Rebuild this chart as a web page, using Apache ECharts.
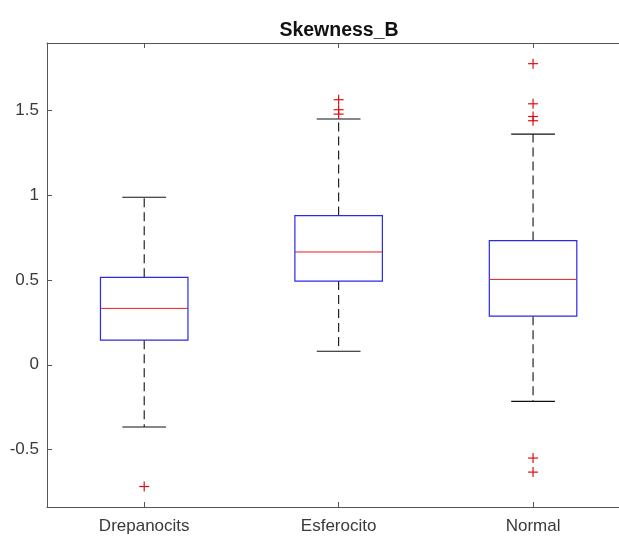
<!DOCTYPE html>
<html>
<head>
<meta charset="utf-8">
<script src="https://cdn.jsdelivr.net/npm/echarts@6/dist/echarts.min.js"></script>
<style>html,body{margin:0;padding:0;background:#fff}#c{width:619px;height:536px}</style>
</head>
<body>
<div id="c"></div>
<script>
var titleText = 'Skewness_B';
var categories = ['Drepanocits', 'Esferocito', 'Normal'];
var categoryPositions = [1, 2, 3];
var lowerWhisker = [-0.368, 0.080, -0.216];
var q1 = [0.145, 0.494, 0.287];
var median = [0.333, 0.666, 0.504];
var q3 = [0.516, 0.881, 0.733];
var upperWhisker = [0.989, 1.451, 1.362];
var outliersDrepanocits = [-0.719];
var outliersEsferocito = [1.565, 1.506, 1.480];
var outliersNormal = [1.778, 1.541, 1.466, 1.441, -0.551, -0.634];
var yTicks = [-0.5, 0, 0.5, 1, 1.5];

var FONT = '"Liberation Sans", Arial, sans-serif';
var boxData = categories.map(function (c, i) {
  return [categoryPositions[i], lowerWhisker[i], q1[i], median[i], q3[i], upperWhisker[i]];
});
var outlierData = [];
[outliersDrepanocits, outliersEsferocito, outliersNormal].forEach(function (arr, i) {
  arr.forEach(function (v) { outlierData.push([categoryPositions[i], v]); });
});

var chart = echarts.init(document.getElementById('c'), null, {renderer: 'canvas'});
var axisLineStyle = {color: '#555', width: 1};
function xAxisCfg(pos, showLabel) {
  return {
    type: 'value', min: 0.5, max: 3.442, position: pos,
    axisLine: {show: true, onZero: false, lineStyle: axisLineStyle},
    axisTick: {show: true, inside: true, length: 5, lineStyle: axisLineStyle, customValues: categoryPositions},
    axisLabel: {show: showLabel, fontFamily: FONT, fontSize: 17, color: '#3a3a3a', margin: 11,
      customValues: categoryPositions,
      formatter: function (v) { return categories[Math.round(v) - 1] || ''; }},
    splitLine: {show: false}
  };
}
chart.setOption({
  animation: false,
  backgroundColor: '#fff',
  title: {
    text: titleText, left: 334, textAlign: 'center', top: 16,
    textStyle: {fontFamily: FONT, fontSize: 19.5, fontWeight: 'bold', color: '#111'}
  },
  grid: {left: 47, top: 43, right: 0, bottom: 29, containLabel: false},
  xAxis: [xAxisCfg('bottom', true), xAxisCfg('top', false)],
  yAxis: [{
    type: 'value', min: -0.84, max: 1.9,
    axisLine: {show: true, onZero: false, lineStyle: axisLineStyle},
    axisTick: {show: true, inside: true, length: 5, lineStyle: axisLineStyle, customValues: yTicks},
    axisLabel: {fontFamily: FONT, fontSize: 17, color: '#3a3a3a', margin: 8, customValues: yTicks,
      formatter: function (v) { return String(v); }},
    splitLine: {show: false}
  }],
  series: [{
    type: 'custom',
    xAxisIndex: 0, yAxisIndex: 0,
    data: boxData,
    encode: {x: 0, y: [1, 2, 3, 4, 5]},
    renderItem: function (params, api) {
      var xi = api.value(0);
      var band = api.size([1, 0])[0];
      var bw = band * 0.45, cw = band * 0.225;
      var pLw = api.coord([xi, api.value(1)]);
      var pQ1 = api.coord([xi, api.value(2)]);
      var pMed = api.coord([xi, api.value(3)]);
      var pQ3 = api.coord([xi, api.value(4)]);
      var pUw = api.coord([xi, api.value(5)]);
      var cx = pMed[0];
      var dash = {stroke: '#111', lineWidth: 1.1, lineDash: [9, 5]};
      var solid = {stroke: '#111', lineWidth: 1.1};
      return {
        type: 'group',
        children: [
          {type: 'line', shape: {x1: cx, y1: pQ3[1], x2: cx, y2: pUw[1]}, style: dash},
          {type: 'line', shape: {x1: cx, y1: pQ1[1], x2: cx, y2: pLw[1]}, style: dash},
          {type: 'line', shape: {x1: cx - cw / 2, y1: pUw[1], x2: cx + cw / 2, y2: pUw[1]}, style: solid},
          {type: 'line', shape: {x1: cx - cw / 2, y1: pLw[1], x2: cx + cw / 2, y2: pLw[1]}, style: solid},
          {type: 'rect', shape: {x: cx - bw / 2, y: pQ3[1], width: bw, height: pQ1[1] - pQ3[1]},
            style: {fill: '#fff', stroke: '#2a2ae6', lineWidth: 1.2}},
          {type: 'line', shape: {x1: cx - bw / 2, y1: pMed[1], x2: cx + bw / 2, y2: pMed[1]},
            style: {stroke: '#e02020', lineWidth: 1}}
        ]
      };
    }
  }, {
    type: 'custom',
    xAxisIndex: 0, yAxisIndex: 0,
    data: outlierData,
    encode: {x: 0, y: 1},
    renderItem: function (params, api) {
      var p = api.coord([api.value(0), api.value(1)]);
      var h = 5;
      var st = {stroke: '#e01010', lineWidth: 1.2};
      return {
        type: 'group',
        children: [
          {type: 'line', shape: {x1: p[0] - h, y1: p[1], x2: p[0] + h, y2: p[1]}, style: st},
          {type: 'line', shape: {x1: p[0], y1: p[1] - h, x2: p[0], y2: p[1] + h}, style: st}
        ]
      };
    }
  }]
});
</script>
</body>
</html>
